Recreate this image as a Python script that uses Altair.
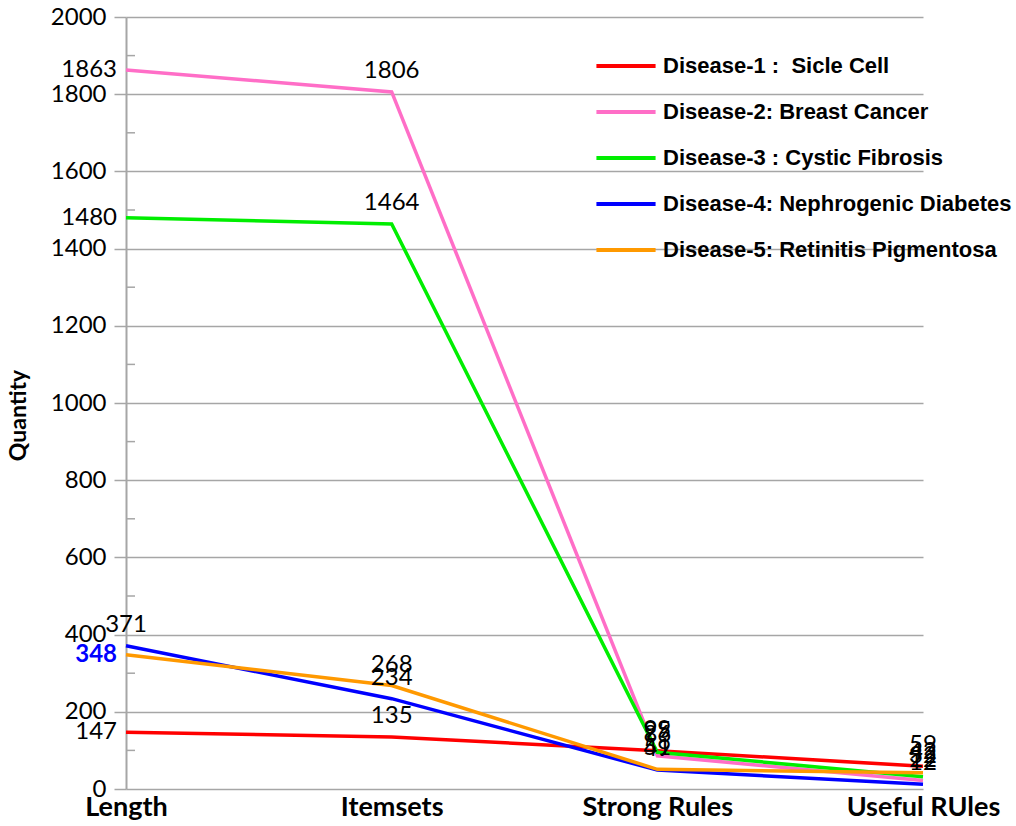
import altair as alt
import pandas as pd

categories = ["Length", "Itemsets", "Strong Rules", "Useful RUles"]
series_names = [
    "Disease-1 :\u00a0 Sicle Cell",
    "Disease-2: Breast Cancer",
    "Disease-3 : Cystic Fibrosis",
    "Disease-4: Nephrogenic Diabetes",
    "Disease-5: Retinitis Pigmentosa",
]
d1 = [147, 135, 99, 59]
d2 = [1863, 1806, 86, 22]
d3 = [1480, 1464, 95, 32]
d4 = [371, 234, 49, 12]
d5 = [348, 268, 51, 42]
series_values = [d1, d2, d3, d4, d5]
colors = ["#ff0000", "#ff6ec7", "#00ee00", "#0000ff", "#ff9900"]
y_ticks = [0, 200, 400, 600, 800, 1000, 1200, 1400, 1600, 1800, 2000]
minor_ticks = [100, 300, 500, 700, 900, 1100, 1300, 1500, 1700, 1900]

rows = []
for name, vals in zip(series_names, series_values):
    for c, v in zip(categories, vals):
        rows.append({"cat": c, "disease": name, "value": v})
df = pd.DataFrame(rows)
df["order"] = df["disease"].map({n: i for i, n in enumerate(series_names)})


def grp(r):
    if r["cat"] == "Length" and r["disease"] == series_names[4]:
        return "leftblue"
    if r["cat"] == "Length" and r["disease"] != series_names[3]:
        return "left"
    return "above"


df["grp"] = df.apply(grp, axis=1)

FONT = "Lato"
xenc = alt.X("cat:N", sort=categories, scale=alt.Scale(type="point", padding=0),
             axis=alt.Axis(title=None, domain=False, ticks=False, grid=False,
                           labelFont=FONT, labelFontSize=27, labelFontWeight="bold",
                           labelColor="black", labelPadding=5, labelAngle=0))
yscale = alt.Scale(domain=[0, 2000], nice=False)

base = alt.Chart(df)

lines = base.mark_line(strokeWidth=3.5).encode(
    x=xenc,
    y=alt.Y("value:Q", scale=yscale,
            axis=alt.Axis(title="Quantity", values=y_ticks, grid=True, format="d",
                          gridColor="#a6a6a6", gridWidth=1.5,
                          domainColor="#a6a6a6", domainWidth=2,
                          tickColor="#a6a6a6", tickWidth=1.5, tickSize=12,
                          labelFont=FONT, labelFontSize=24, labelColor="black",
                          labelPadding=8, titleFont=FONT, titleFontSize=23,
                          titleFontWeight="bold", titleColor="black",
                          titleX=-96, titleY=398)),
    color=alt.Color("disease:N", sort=series_names,
                    scale=alt.Scale(domain=series_names, range=colors),
                    legend=alt.Legend(title=None, orient="none", legendX=468, legendY=17,
                                      symbolType="stroke", symbolSize=3500,
                                      symbolStrokeWidth=4, rowPadding=3,
                                      labelFont="Liberation Sans", labelFontSize=22,
                                      labelFontWeight="bold", labelColor="black",
                                      labelOffset=5, labelLimit=450)),
    order=alt.Order("order:Q"),
    detail="disease:N",
)

minor = alt.Chart(pd.DataFrame({"v": minor_ticks})).mark_rule(
    color="#a6a6a6", strokeWidth=1.5).encode(
    y=alt.Y("v:Q", scale=yscale), x=alt.value(0), x2=alt.value(9))

above = base.transform_filter(alt.datum.grp == "above").mark_text(
    font=FONT, fontSize=24, color="black", dy=-21, align="center", baseline="middle"
).encode(x=alt.X("cat:N", sort=categories), y="value:Q", text="value:Q")

left = base.transform_filter(alt.datum.grp == "left").mark_text(
    font=FONT, fontSize=24, color="black", dx=-9, align="right", baseline="middle"
).encode(x=alt.X("cat:N", sort=categories), y="value:Q", text="value:Q")

leftblue = base.transform_filter(alt.datum.grp == "leftblue").mark_text(
    font=FONT, fontSize=24, fontWeight="bold", color="#0000ff", dx=-9,
    align="right", baseline="middle"
).encode(x=alt.X("cat:N", sort=categories), y="value:Q", text="value:Q")

chart = alt.layer(minor, lines, above, left, leftblue).properties(
    width=797, height=772, autosize="none",
    padding={"left": 126, "top": 17, "right": 93, "bottom": 37},
    background="white",
).configure_view(stroke=None)

chart.save("out.html", embed_options={"renderer": "svg", "actions": False})
